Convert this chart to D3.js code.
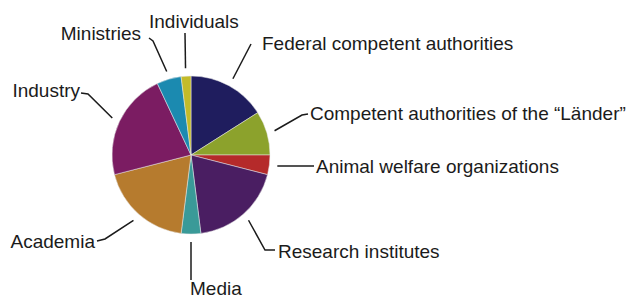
<!DOCTYPE html>
<html>
<head>
<meta charset="utf-8">
<script src="https://cdn.jsdelivr.net/npm/d3@7"></script>
<style>
  html, body { margin: 0; padding: 0; background: #fff; }
  svg { display: block; }
  .label { font-family: "Liberation Sans", Arial, Helvetica, sans-serif; font-size: 19px; fill: #1b1b1b; }
  .leader { fill: none; stroke: #1b1b1b; stroke-width: 1.5; }
</style>
</head>
<body>
<div id="chart"></div>
<script>
const categories = [
  "Federal competent authorities",
  "Competent authorities of the \u201cL\u00e4nder\u201d",
  "Animal welfare organizations",
  "Research institutes",
  "Media",
  "Academia",
  "Industry",
  "Ministries",
  "Individuals",
];
const shares = [16, 9, 4, 19, 4, 19, 22, 5, 2];
const colors = ["#1f1d5e", "#8ca22c", "#b52a2a", "#4a1e62", "#3a9a98", "#b67b2e", "#7b1c62", "#1b8ab0", "#c3bb2a"];

// label layout: elbow points of the leader line, text anchor, alignment
const labelLayout = [
  { pts: [[251, 44]], text: [262, 50], anchor: "start" },
  { pts: [[302, 115], [308, 114]], text: [310, 120], anchor: "start" },
  { pts: [[314, 166]], text: [316, 173], anchor: "start" },
  { pts: [[265, 250], [275, 250]], text: [278, 258], anchor: "start" },
  { pts: [[191, 280]], text: [190, 295], anchor: "start" },
  { pts: [[105, 239], [97, 241]], text: [95, 248], anchor: "end" },
  { pts: [[88, 94], [81, 93]], text: [80, 97], anchor: "end" },
  { pts: [[153, 41], [149, 38]], text: [141, 40], anchor: "end" },
  { pts: [[185, 33]], text: [149, 28], anchor: "start" },
];

const W = 632, H = 298;
const cx = 191, cy = 155, R = 79;

const svg = d3.select("#chart").append("svg").attr("width", W).attr("height", H);

const pie = d3.pie().sort(null).value((d) => d.value);
const arcs = pie(categories.map((c, i) => ({ name: c, value: shares[i], color: colors[i] })));
const arc = d3.arc().innerRadius(0).outerRadius(R);
const outer = d3.arc().innerRadius(R + 8).outerRadius(R + 8);

const g = svg.append("g").attr("transform", `translate(${cx},${cy})`);

g.selectAll("path.slice")
  .data(arcs)
  .join("path")
  .attr("class", "slice")
  .attr("d", arc)
  .attr("fill", (d) => d.data.color)
  .attr("stroke", "#e8e8e8")
  .attr("stroke-width", 0.5);

const line = d3.line();

svg.selectAll("path.leader")
  .data(arcs)
  .join("path")
  .attr("class", "leader")
  .attr("d", (d, i) => {
    const [x, y] = outer.centroid(d);
    return line([[cx + x, cy + y], ...labelLayout[i].pts]);
  });

svg.selectAll("text.label")
  .data(arcs)
  .join("text")
  .attr("class", "label")
  .attr("x", (d, i) => labelLayout[i].text[0])
  .attr("y", (d, i) => labelLayout[i].text[1])
  .attr("text-anchor", (d, i) => labelLayout[i].anchor)
  .text((d) => d.data.name);
</script>
</body>
</html>
